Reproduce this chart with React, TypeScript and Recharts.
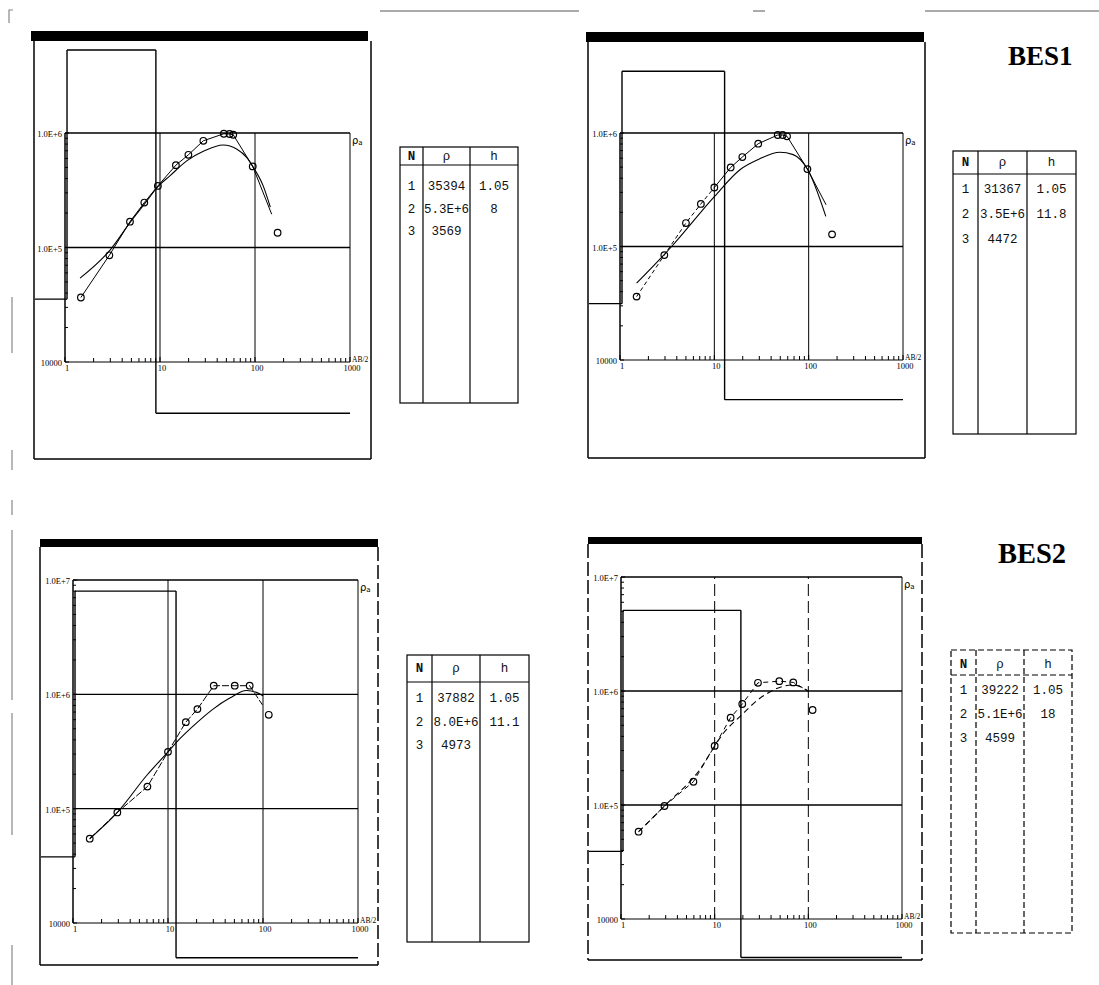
import React from 'react';
import { ComposedChart, Line, Scatter, XAxis, YAxis, ReferenceLine } from 'recharts';

// ---------------- axis ticks ----------------
const xTicks = [1, 2, 3, 4, 5, 6, 7, 8, 9, 10, 20, 30, 40, 50, 60, 70, 80, 90, 100, 200, 300, 400, 500, 600, 700, 800, 900, 1000];
const xTickLabels: Record<string, string> = { '1': '1', '10': '10', '100': '100', '1000': '1000' };
const yTicks6 = [10000, 20000, 30000, 40000, 50000, 60000, 70000, 80000, 90000, 100000, 200000, 300000, 400000, 500000, 600000, 700000, 800000, 900000, 1000000];
const yTicks7 = [...yTicks6, 2000000, 3000000, 4000000, 5000000, 6000000, 7000000, 8000000, 9000000, 10000000];
const yTickLabels: Record<string, string> = { '10000': '10000', '100000': '1.0E+5', '1000000': '1.0E+6', '10000000': '1.0E+7' };
const xGrid = [10, 100, 1000];
const yGrid6 = [100000, 1000000];
const yGrid7 = [100000, 1000000, 10000000];

// ---------------- BES1, sounding a (top left) ----------------
const p1LayerRho = [35394, 5.3e6, 3569];
const p1LayerH = [1.05, 8];
const p1ObsAB = [1.47, 2.93, 4.83, 6.84, 9.5, 14.7, 19.9, 28.6, 47, 54, 59, 94.6, 173];
const p1ObsRho = [36600, 85500, 168000, 247000, 345000, 524000, 645000, 855000, 985000, 980000, 965000, 511000, 134500];
const p1LineAB = [1.47, 2.93, 4.83, 6.84, 9.5, 14.7, 19.9, 28.6, 47, 54, 59, 94.6, 150];
const p1LineRho = [36600, 85500, 168000, 247000, 345000, 524000, 645000, 855000, 985000, 980000, 965000, 511000, 195000];
const p1CalcAB = [1.44, 2.98, 4.83, 7, 9.5, 12.7, 19.1, 28.6, 46.4, 64, 81.7, 94.6, 122, 145];
const p1CalcRho = [54000, 95000, 165000, 245000, 340000, 422000, 571000, 692000, 785000, 725000, 612000, 511000, 345000, 225000];

// ---------------- BES1, sounding b (top right) ----------------
const p2LayerRho = [31367, 3.5e6, 4472];
const p2LayerH = [1.05, 11.8];
const p2ObsAB = [1.5, 2.95, 5, 7.2, 10, 14.9, 19.8, 29.2, 47, 53, 59, 97, 177];
const p2ObsRho = [36200, 84000, 161000, 237000, 331000, 497000, 614000, 805000, 960000, 960000, 935000, 481000, 128000];
const p2LineAAB = [1.5, 2.95, 5, 7.2, 10];
const p2LineARho = [36200, 84000, 161000, 237000, 331000];
const p2LineBAB = [10, 14.9, 19.8, 29.2, 47, 53, 59, 97, 153];
const p2LineBRho = [331000, 497000, 614000, 805000, 960000, 960000, 935000, 481000, 233000];
const p2CalcAB = [1.5, 3.53, 10, 18.7, 30, 49.5, 68.5, 97, 152];
const p2CalcRho = [47500, 100000, 275000, 475000, 590000, 676000, 645000, 481000, 184000];

// ---------------- BES2, sounding a (bottom left) ----------------
const p3LayerRho = [37882, 8.0e6, 4973];
const p3LayerH = [1.05, 11.1];
const p3ObsAB = [1.5, 2.93, 6.07, 10, 15.4, 20.4, 30.3, 50.4, 72.4, 115];
const p3ObsRho = [54600, 92700, 156000, 314000, 571000, 743000, 1190000, 1190000, 1190000, 662000];
const p3LineAB = [1.5, 2.93, 6.07, 10, 15.4, 20.4, 30.3, 50.4, 72.4, 98.6];
const p3LineRho = [54600, 92700, 156000, 314000, 571000, 743000, 1190000, 1190000, 1190000, 809000];
const p3CalcAB = [1.5, 2.93, 5.93, 10, 12.25, 19.9, 29.8, 44.7, 66.8, 85, 100];
const p3CalcRho = [54600, 92700, 194000, 314000, 380000, 560000, 743000, 927000, 1080000, 1040000, 970000];

// ---------------- BES2, sounding b (bottom right) ----------------
const p4LayerRho = [39222, 5.1e6, 4599];
const p4LayerH = [1.05, 18];
const p4ObsAB = [1.54, 2.91, 5.93, 10, 14.8, 19.7, 29, 49, 69, 111];
const p4ObsRho = [58300, 98000, 160000, 330000, 583000, 769000, 1180000, 1220000, 1190000, 681000];
const p4LineAB = [1.54, 2.91, 5.93, 10, 14.8, 19.7, 29, 49, 69, 99.5];
const p4LineRho = [58300, 98000, 160000, 330000, 583000, 769000, 1180000, 1220000, 1190000, 1000000];
const p4CalcAB = [1.54, 2.91, 7.3, 10, 12.4, 18.6, 30.4, 69, 99.5];
const p4CalcRho = [58300, 98000, 217000, 330000, 426000, 596000, 863000, 1130000, 1000000];

// ---------------- helpers ----------------
type Pt = { x: number; y: number };
const zip = (xs: number[], ys: number[]): Pt[] => xs.map((x, i) => ({ x, y: ys[i] }));

function stepSegments(rho: number[], h: number[], xStart: number, xEnd: number): Pt[][] {
  const depths: number[] = [];
  h.forEach((v, i) => depths.push((i === 0 ? 0 : depths[i - 1]) + v));
  const bounds = [xStart, ...depths, xEnd];
  const segs: Pt[][] = [];
  rho.forEach((r, i) => {
    segs.push([{ x: bounds[i], y: r }, { x: bounds[i + 1], y: r }]);
    if (i < rho.length - 1) segs.push([{ x: bounds[i + 1], y: r }, { x: bounds[i + 1], y: rho[i + 1] }]);
  });
  return segs;
}

const fmtRho = (v: number) => (v >= 1e6 ? v.toExponential(1).toUpperCase() : String(v));

const TICK_FONT = "'Liberation Serif', serif";
const TABLE_FONT = "'Liberation Mono', monospace";
const Y_AXIS_W = 20;
const X_AXIS_H = 12;

const renderXTick = (p: any) => {
  const v = p.payload?.value;
  const label = xTickLabels[String(v)];
  return (
    <g>
      <line x1={p.x} x2={p.x} y1={p.y} y2={p.y - (label ? 5 : 4)} stroke="#000" strokeWidth={1} />
      {label ? (
        <text x={p.x + 2} y={p.y + 9} textAnchor="middle" fontSize={8.5} fontFamily={TICK_FONT} fill="#000">
          {label}
        </text>
      ) : null}
    </g>
  );
};

const renderYTick = (p: any) => {
  const v = p.payload?.value;
  const label = yTickLabels[String(v)];
  return (
    <g>
      <line x1={p.x} x2={p.x + (label ? 4 : 3)} y1={p.y} y2={p.y} stroke="#000" strokeWidth={1} />
      {label ? (
        <text x={p.x - 3} y={p.y + 4} textAnchor="end" fontSize={8.5} fontFamily={TICK_FONT} fill="#000">
          {label}
        </text>
      ) : null}
    </g>
  );
};

const renderCircle = (p: any) => (
  <circle cx={p.cx} cy={p.cy} r={3.3} fill="none" stroke="#000" strokeWidth={1.2} />
);

type Box = { l: number; t: number; r: number; b: number };
type LineDef = { pts: Pt[]; dash?: string };
type TableDef = { l: number; t: number; r: number; b: number; c1: number; c2: number; hb: number; hy: number; rows: number[]; dashed?: boolean };
type PanelCfg = {
  frame: Box;
  plot: Box;
  bar: { x: number; y: number; w: number; h: number };
  yMax: number;
  yTicks: number[];
  yGrid: number[];
  rho: number[];
  h: number[];
  obs: Pt[];
  lines: LineDef[];
  calc: Pt[];
  calcDash?: string;
  gridDash?: string;
  leftDash?: boolean;
  rightDash?: boolean;
  table: TableDef;
};

const panels: PanelCfg[] = [
  {
    frame: { l: 34, t: 41, r: 371, b: 459 },
    plot: { l: 65, t: 133, r: 350, b: 362 },
    bar: { x: 31, y: 31, w: 337, h: 10 },
    yMax: 1e6, yTicks: yTicks6, yGrid: yGrid6,
    rho: p1LayerRho, h: p1LayerH,
    obs: zip(p1ObsAB, p1ObsRho),
    lines: [{ pts: zip(p1LineAB, p1LineRho) }],
    calc: zip(p1CalcAB, p1CalcRho),
    table: { l: 400, t: 147, r: 518, b: 403, c1: 423, c2: 470, hb: 165, hy: 160, rows: [189.5, 212.5, 234.5] },
  },
  {
    frame: { l: 588, t: 42, r: 925, b: 458 },
    plot: { l: 620, t: 133, r: 903, b: 360 },
    bar: { x: 586, y: 32, w: 338, h: 10 },
    yMax: 1e6, yTicks: yTicks6, yGrid: yGrid6,
    rho: p2LayerRho, h: p2LayerH,
    obs: zip(p2ObsAB, p2ObsRho),
    lines: [{ pts: zip(p2LineAAB, p2LineARho), dash: '4 3' }, { pts: zip(p2LineBAB, p2LineBRho) }],
    calc: zip(p2CalcAB, p2CalcRho),
    table: { l: 953, t: 151, r: 1076, b: 434, c1: 978, c2: 1027, hb: 174, hy: 166, rows: [192.5, 217.5, 242.5] },
  },
  {
    frame: { l: 40, t: 547, r: 378, b: 965 },
    plot: { l: 73, t: 580, r: 358, b: 923 },
    bar: { x: 40, y: 539, w: 338, h: 8 },
    yMax: 1e7, yTicks: yTicks7, yGrid: yGrid7,
    rho: p3LayerRho, h: p3LayerH,
    obs: zip(p3ObsAB, p3ObsRho),
    lines: [{ pts: zip(p3LineAB, p3LineRho), dash: '7 2' }],
    calc: zip(p3CalcAB, p3CalcRho),
    rightDash: true,
    table: { l: 407, t: 655, r: 529, b: 942, c1: 432, c2: 480, hb: 682, hy: 672, rows: [701.5, 725.5, 748.5] },
  },
  {
    frame: { l: 588, t: 544, r: 922, b: 960 },
    plot: { l: 621, t: 577, r: 902, b: 919 },
    bar: { x: 588, y: 537, w: 334, h: 7 },
    yMax: 1e7, yTicks: yTicks7, yGrid: yGrid7,
    rho: p4LayerRho, h: p4LayerH,
    obs: zip(p4ObsAB, p4ObsRho),
    lines: [{ pts: zip(p4LineAB, p4LineRho), dash: '5 4' }],
    calc: zip(p4CalcAB, p4CalcRho),
    calcDash: '6 4',
    gridDash: '12 5',
    leftDash: true,
    rightDash: true,
    table: { l: 951, t: 650, r: 1072, b: 933, c1: 976, c2: 1024, hb: 675, hy: 668, rows: [693.5, 717.5, 742], dashed: true },
  },
];

function Panel({ cfg }: { cfg: PanelCfg }) {
  const { frame, plot } = cfg;
  const width = frame.r - frame.l;
  const height = frame.b - frame.t;
  const padLeft = plot.l - frame.l;
  const padBottom = frame.b - plot.b;
  const margin = { left: padLeft - Y_AXIS_W, right: frame.r - plot.r, top: plot.t - frame.t, bottom: padBottom - X_AXIS_H };
  const decadePx = (plot.r - plot.l) / 3;
  const xStart = Math.pow(10, -(padLeft - 1) / decadePx);
  const segs = stepSegments(cfg.rho, cfg.h, xStart, 1000);
  return (
    <div style={{ position: 'absolute', left: frame.l, top: frame.t, width, height }}>
      <ComposedChart width={width} height={height} margin={margin}>
        <XAxis
          type="number" dataKey="x" scale="log" domain={[1, 1000]} ticks={xTicks} interval={0}
          height={X_AXIS_H} tickSize={0} tickMargin={0} tickLine={false}
          axisLine={{ stroke: '#000', strokeWidth: 1.2 }} tick={renderXTick}
        />
        <YAxis
          type="number" dataKey="y" scale="log" domain={[10000, cfg.yMax]} ticks={cfg.yTicks} interval={0}
          width={Y_AXIS_W} tickSize={0} tickMargin={0} tickLine={false}
          axisLine={{ stroke: '#000', strokeWidth: 1.5 }} tick={renderYTick}
        />
        {xGrid.map((v) => (
          <ReferenceLine key={'gx' + v} x={v} stroke="#000" strokeWidth={1} strokeDasharray={v === 1000 ? undefined : cfg.gridDash} ifOverflow="visible" />
        ))}
        {cfg.yGrid.map((v) => (
          <ReferenceLine key={'gy' + v} y={v} stroke="#000" strokeWidth={1.3} ifOverflow="visible" />
        ))}
        {segs.map((s, i) => (
          <ReferenceLine key={'st' + i} segment={s} stroke="#000" strokeWidth={1.4} ifOverflow="visible" />
        ))}
        {cfg.lines.map((l, i) => (
          <Line key={'ol' + i} data={l.pts} dataKey="y" type="linear" stroke="#000" strokeWidth={1}
            strokeDasharray={l.dash} dot={false} activeDot={false} isAnimationActive={false} />
        ))}
        <Line data={cfg.calc} dataKey="y" type="monotone" stroke="#000" strokeWidth={1.1}
          strokeDasharray={cfg.calcDash} dot={false} activeDot={false} isAnimationActive={false} />
        <Scatter data={cfg.obs} dataKey="y" shape={renderCircle} isAnimationActive={false} />
      </ComposedChart>
    </div>
  );
}

function Overlay() {
  return (
    <svg width={1099} height={985} style={{ position: 'absolute', left: 0, top: 0, pointerEvents: 'none' }}>
      {/* scan-edge marks */}
      <path d="M9 23 V10 H13" stroke="#888" strokeWidth={1.2} fill="none" />
      {[[380, 579], [753, 765], [925, 1099]].map(([a, b], i) => (
        <line key={'tl' + i} x1={a} x2={b} y1={11} y2={11} stroke="#aaa" strokeWidth={2} />
      ))}
      {[[297, 353], [450, 470], [500, 515], [530, 700], [713, 835], [945, 985]].map(([a, b], i) => (
        <line key={'ll' + i} x1={12} x2={12} y1={a} y2={b} stroke="#888" strokeWidth={1.2} />
      ))}

      {panels.map((cfg, pi) => {
        const { frame, plot, bar, table: t } = cfg;
        const rows = cfg.rho.map((r, i) => [String(i + 1), fmtRho(r), i < cfg.h.length ? String(cfg.h[i]) : '']);
        const tDash = t.dashed ? '6 3' : undefined;
        return (
          <g key={'p' + pi}>
            <rect x={bar.x} y={bar.y} width={bar.w} height={bar.h} fill="#000" />
            <line x1={frame.l} x2={frame.l} y1={frame.t} y2={frame.b} stroke="#000" strokeWidth={1.5} strokeDasharray={cfg.leftDash ? '14 4' : undefined} />
            <line x1={frame.r} x2={frame.r} y1={frame.t} y2={frame.b} stroke="#000" strokeWidth={1.5} strokeDasharray={cfg.rightDash ? '14 4' : undefined} />
            <line x1={frame.l} x2={frame.r} y1={frame.b} y2={frame.b} stroke="#000" strokeWidth={1.5} />
            <text x={plot.r + 2} y={plot.t + 11} fontSize={10} fontFamily="'DejaVu Sans', sans-serif" fill="#000">
              ρ<tspan fontSize={7} dy={1}>a</tspan>
            </text>
            <text x={plot.r + 2} y={plot.b} fontSize={7.5} fontFamily={TICK_FONT} fill="#000">AB/2</text>

            {/* parameter table */}
            <g stroke="#000" strokeWidth={1.2} fill="none" strokeDasharray={tDash}>
              <rect x={t.l} y={t.t} width={t.r - t.l} height={t.b - t.t} />
              <line x1={t.l} x2={t.r} y1={t.hb} y2={t.hb} />
              <line x1={t.c1} x2={t.c1} y1={t.t} y2={t.b} />
              <line x1={t.c2} x2={t.c2} y1={t.t} y2={t.b} />
            </g>
            <g fontFamily={TABLE_FONT} fontSize={12.5} fill="#111" textAnchor="middle">
              <text x={(t.l + t.c1) / 2} y={t.hy} fontWeight="bold">N</text>
              <text x={(t.c1 + t.c2) / 2} y={t.hy}>ρ</text>
              <text x={(t.c2 + t.r) / 2} y={t.hy}>h</text>
              {rows.map((row, ri) => (
                <g key={'r' + ri}>
                  <text x={(t.l + t.c1) / 2} y={t.rows[ri]}>{row[0]}</text>
                  <text x={(t.c1 + t.c2) / 2} y={t.rows[ri]}>{row[1]}</text>
                  <text x={(t.c2 + t.r) / 2} y={t.rows[ri]}>{row[2]}</text>
                </g>
              ))}
            </g>
          </g>
        );
      })}

      <text x={1008} y={65} fontSize={27} fontWeight="bold" fontFamily="'Liberation Serif', serif" fill="#000">BES1</text>
      <text x={998} y={563} fontSize={28.5} fontWeight="bold" fontFamily="'Liberation Serif', serif" fill="#000">BES2</text>
    </svg>
  );
}

export default function App() {
  return (
    <div style={{ position: 'absolute', left: 0, top: 0, width: 1099, height: 985, background: '#fff', overflow: 'hidden' }}>
      {panels.map((cfg, i) => (
        <Panel key={i} cfg={cfg} />
      ))}
      <Overlay />
    </div>
  );
}
